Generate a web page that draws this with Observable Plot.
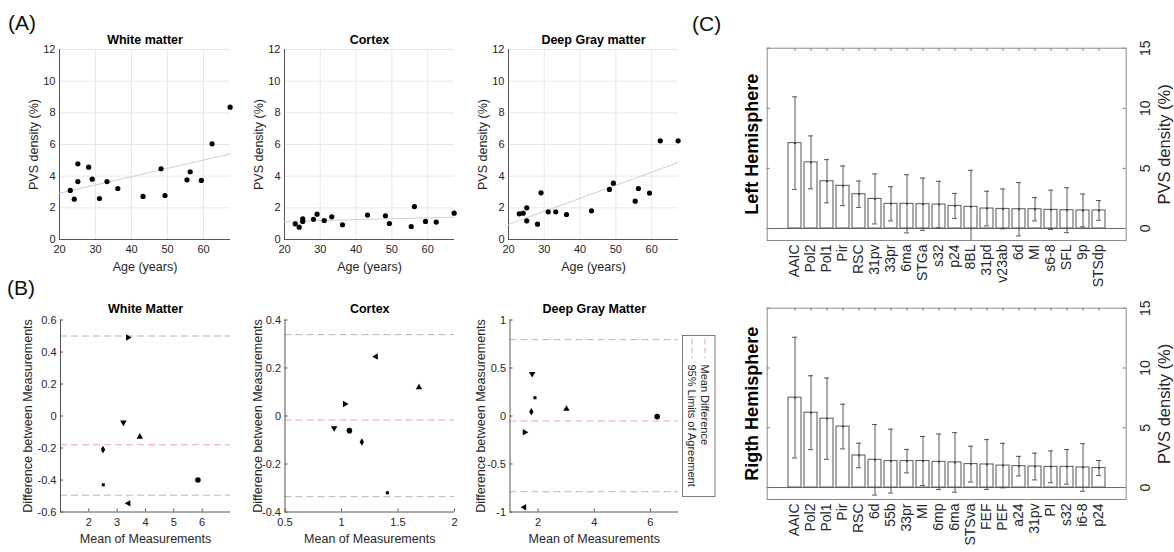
<!DOCTYPE html>
<html>
<head>
<meta charset="utf-8">
<script src="https://cdn.jsdelivr.net/npm/d3@7"></script>
<script src="https://cdn.jsdelivr.net/npm/@observablehq/plot@0.6"></script>
<style>
  html,body{margin:0;padding:0;background:#fff;}
  #root{position:relative;width:1174px;height:552px;overflow:hidden;font-family:"Liberation Sans",Arial,Helvetica,sans-serif;color:#262626;}
</style>
</head>
<body>
<div id="root"></div>
<script>
// ---------------- data: panel A (PVS density vs age) ----------------
const ages = [23.0, 24.1, 25.1, 25.1, 28.1, 29.1, 31.1, 33.2, 36.2, 43.2, 48.2, 49.3, 55.4, 56.3, 59.4, 62.4, 67.4];
const pvsWhite    = [3.10, 2.55, 4.78, 3.66, 4.57, 3.81, 2.59, 3.66, 3.22, 2.72, 4.47, 2.78, 3.77, 4.28, 3.73, 6.04, 8.36];
const pvsCortex   = [0.99, 0.78, 1.31, 1.14, 1.28, 1.60, 1.20, 1.43, 0.93, 1.54, 1.50, 1.01, 0.82, 2.08, 1.14, 1.10, 1.66];
const pvsDeepGray = [1.62, 1.66, 2.00, 1.18, 0.97, 2.95, 1.75, 1.75, 1.58, 1.81, 3.16, 3.56, 2.42, 3.22, 2.93, 6.23, 6.23];
const trendAges     = [20, 67.5];
const trendWhite    = [2.92, 5.41];
const trendCortex   = [1.14, 1.41];
const trendDeepGray = [0.95, 4.87];
const ageTicks = [20, 30, 40, 50, 60];
const densityTicks = [0, 2, 4, 6, 8, 10, 12];

// ---------------- data: panel B (Bland-Altman) ----------------
const baWhiteMarkers = ["right", "down", "up", "diamond", "square", "left", "circle"];
const baWhiteMean    = [3.38, 3.22, 3.80, 2.50, 2.51, 3.40, 5.85];
const baWhiteDiff    = [0.49, -0.04, -0.13, -0.21, -0.43, -0.546, -0.40];
const baWhiteMeanDiff = -0.18;
const baWhiteLimits  = [0.50, -0.495];

const baCortexMarkers = ["down", "right", "circle", "diamond", "left", "square", "up"];
const baCortexMean    = [0.935, 1.03, 1.07, 1.18, 1.305, 1.406, 1.686];
const baCortexDiff    = [-0.05, 0.05, -0.061, -0.108, 0.248, -0.32, 0.119];
const baCortexMeanDiff = -0.017;
const baCortexLimits  = [0.339, -0.336];

const baDeepMarkers = ["down", "square", "diamond", "up", "right", "left", "circle"];
const baDeepMean    = [1.79, 1.89, 1.76, 3.01, 1.52, 1.51, 6.24];
const baDeepDiff    = [0.44, 0.19, 0.045, 0.073, -0.17, -0.95, -0.007];
const baDeepMeanDiff = -0.052;
const baDeepLimits  = [0.795, -0.789];

// ---------------- data: panel C (regional PVS density) ----------------
const leftRegions = ["AAIC","Pol2","Pol1","Pir","RSC","31pv","33pr","6ma","STGa","s32","p24","8BL","31pd","v23ab","6d","MI","s6-8","SFL","9p","STSdp"];
const leftMeans   = [7.10, 5.50, 3.93, 3.55, 2.85, 2.46, 2.05, 2.05, 2.02, 1.99, 1.88, 1.80, 1.66, 1.63, 1.60, 1.60, 1.55, 1.52, 1.50, 1.50];
const leftSDs     = [3.85, 2.20, 1.80, 1.65, 1.10, 2.08, 1.42, 2.42, 2.17, 1.94, 1.04, 3.04, 1.44, 1.66, 2.22, 0.97, 1.64, 1.87, 1.36, 0.82];
const rightRegions = ["AAIC","Pol2","Pol1","Pir","RSC","6d","55b","33pr","MI","6mp","6ma","STSva","FEF","PEF","a24","31pv","PI","s32","i6-8","p24"];
const rightMeans   = [7.52, 6.26, 5.76, 5.10, 2.68, 2.32, 2.21, 2.21, 2.22, 2.15, 2.10, 1.96, 1.93, 1.84, 1.79, 1.76, 1.73, 1.73, 1.68, 1.63];
const rightSDs     = [5.05, 3.09, 3.40, 1.87, 1.03, 2.95, 2.67, 0.98, 2.05, 2.32, 2.49, 1.50, 2.08, 1.86, 0.82, 1.12, 1.33, 1.45, 1.99, 0.63];
const densityTicksC = [0, 5, 10, 15];

// ---------------- helpers ----------------
const W = 1174, H = 552;
const root = document.getElementById("root");
const FONT = '"Liberation Sans", Arial, Helvetica, sans-serif';
const AX = "#555555";
const C = {textAnchor: "middle", lineAnchor: "middle"};

function layer([l, r, t, b], opts, fontSize = 11) {
  const el = Plot.plot({
    width: W, height: H,
    marginLeft: l, marginRight: W - r, marginTop: t, marginBottom: H - b,
    style: {position: "absolute", left: "0px", top: "0px", background: "transparent",
            fontFamily: FONT, fontSize: fontSize + "px", color: "#262626", overflow: "visible"},
    ...opts
  });
  root.appendChild(el);
}

const triangle = deg => ({
  draw(ctx, size) {
    const R = Math.sqrt(size / 1.299);
    for (let k = 0; k < 3; ++k) {
      const a = (deg + 120 * k) * Math.PI / 180;
      const px = R * Math.cos(a), py = R * Math.sin(a);
      if (k) ctx.lineTo(px, py); else ctx.moveTo(px, py);
    }
    ctx.closePath();
  }
});
const SYM = {
  up: {s: triangle(-90), r: 2.4}, down: {s: triangle(90), r: 2.4},
  left: {s: triangle(180), r: 2.4}, right: {s: triangle(0), r: 2.4},
  square: {s: d3.symbolSquare, r: 1.7}, diamond: {s: d3.symbolDiamond, r: 2.3},
  circle: {s: d3.symbolCircle, r: 2.8}
};

// ---------------- panel A ----------------
function panelA(frame, title, vals, trend) {
  const pts = ages.map((a, i) => ({age: a, v: vals[i]}));
  const tl = trendAges.map((a, i) => ({age: a, v: trend[i]}));
  layer(frame, {
    x: {domain: [20, 67.5], ticks: ageTicks, tickSize: 0, tickPadding: 6, label: null},
    y: {domain: [0, 12], ticks: densityTicks, tickSize: 0, tickPadding: 4, label: null},
    marks: [
      Plot.ruleX(ageTicks, {x: d => d, stroke: "#e8e8e8"}),
      Plot.ruleY(densityTicks, {y: d => d, stroke: "#e8e8e8"}),
      Plot.ruleX([20], {x: d => d, stroke: AX}),
      Plot.ruleY([0], {y: d => d, stroke: AX}),
      Plot.line(tl, {x: "age", y: "v", stroke: "#d0d0d0", strokeWidth: 1}),
      Plot.dot(pts, {x: "age", y: "v", r: 2.6, fill: "#000", stroke: "none"}),
      Plot.text([title], {...C, text: d => d, frameAnchor: "top", dy: -10, fontWeight: "bold", fontSize: 12.5, fill: "#000"}),
      Plot.text(["PVS density (%)"], {...C, text: d => d, frameAnchor: "left", dx: -26, rotate: -90, fontSize: 12.5}),
      Plot.text(["Age (years)"], {...C, text: d => d, frameAnchor: "bottom", dy: 27, fontSize: 12.5})
    ]
  });
}
panelA([59, 230, 49, 239], "White matter", pvsWhite, trendWhite);
panelA([284, 454, 49, 239], "Cortex", pvsCortex, trendCortex);
panelA([508, 678, 49, 239], "Deep Gray matter", pvsDeepGray, trendDeepGray);

// ---------------- panel B ----------------
function panelB(frame, title, xDomain, xTicks, yDomain, yTicks, means, diffs, markers, meanDiff, limits, labelDx) {
  const pts = means.map((m, i) => ({x: m, y: diffs[i], m: markers[i]}));
  const fw = frame[1] - frame[0], fh = frame[3] - frame[2];
  const dots = Object.keys(SYM).map(k =>
    Plot.dot(pts.filter(p => p.m === k), {x: "x", y: "y", symbol: SYM[k].s, r: SYM[k].r, fill: "#000", stroke: "none"}));
  layer(frame, {
    x: {domain: xDomain, ticks: xTicks, tickSize: 0, tickPadding: 6, label: null, tickFormat: d => String(d)},
    y: {domain: yDomain, ticks: yTicks, tickSize: 0, tickPadding: 4, label: null, tickFormat: d => String(d)},
    marks: [
      Plot.ruleY(limits, {y: d => d, stroke: "#b8b8b8", strokeDasharray: "7,4"}),
      Plot.ruleY([meanDiff], {y: d => d, stroke: "#f2a3a3", strokeDasharray: "7,4"}),
      Plot.ruleX([xDomain[0]], {x: d => d, stroke: AX}),
      Plot.ruleY([yDomain[0]], {y: d => d, stroke: AX}),
      Plot.tickX(xTicks, {x: d => d, insetTop: fh - 3, stroke: AX}),
      Plot.tickY(yTicks, {y: d => d, insetRight: fw - 3, stroke: AX}),
      ...dots,
      Plot.text([title], {...C, text: d => d, frameAnchor: "top", dy: -11, fontWeight: "bold", fontSize: 12.5, fill: "#000"}),
      Plot.text(["Difference between Measurements"], {...C, text: d => d, frameAnchor: "left", dx: labelDx, rotate: -90, fontSize: 12.5}),
      Plot.text(["Mean of Measurements"], {...C, text: d => d, frameAnchor: "bottom", dy: 27, fontSize: 12.5})
    ]
  });
}
panelB([60, 230, 319.5, 511.5], "White Matter", [1, 7], [2, 3, 4, 5, 6], [-0.6, 0.6], [-0.6, -0.4, -0.2, 0, 0.2, 0.4, 0.6],
       baWhiteMean, baWhiteDiff, baWhiteMarkers, baWhiteMeanDiff, baWhiteLimits, -33);
panelB([284.5, 454, 319.5, 511.5], "Cortex", [0.5, 2], [0.5, 1, 1.5, 2], [-0.4, 0.4], [-0.4, -0.2, 0, 0.2, 0.4],
       baCortexMean, baCortexDiff, baCortexMarkers, baCortexMeanDiff, baCortexLimits, -27);
panelB([509.5, 678, 319.5, 511.5], "Deep Gray Matter", [1, 7], [2, 4, 6], [-1, 1], [-1, -0.5, 0, 0.5, 1],
       baDeepMean, baDeepDiff, baDeepMarkers, baDeepMeanDiff, baDeepLimits, -29);

// ---------------- panel C ----------------
function panelC(frame, names, means, sds, hemi) {
  const rows = names.map((n, i) => ({name: n, mean: means[i], lo: means[i] - sds[i], hi: means[i] + sds[i]}));
  const fw = frame[1] - frame[0], fh = frame[3] - frame[2];
  layer(frame, {
    x: {type: "band", domain: names, paddingInner: 0.17, paddingOuter: 0.78, align: 0.5,
        tickRotate: -90, tickSize: 0, tickPadding: 4, label: null},
    y: {domain: [-1, 15], axis: null},
    marks: [
      Plot.ruleY([0], {y: d => d, stroke: "#666"}),
      Plot.barY(rows, {x: "name", y: "mean", fill: "white", stroke: "#555", strokeWidth: 1}),
      Plot.ruleX(rows, {x: "name", y1: "lo", y2: "hi", stroke: "#444", strokeWidth: 0.9, clip: true}),
      Plot.tickY(rows, {x: "name", y: "hi", insetLeft: 4, insetRight: 4, stroke: "#444", strokeWidth: 0.9, clip: true}),
      Plot.tickY(rows, {x: "name", y: "lo", insetLeft: 4, insetRight: 4, stroke: "#444", strokeWidth: 0.9, clip: true}),
      Plot.dot(rows, {x: "name", y: "mean", r: 1, fill: "#333", stroke: "none"}),
      Plot.tickX(names, {x: d => d, insetBottom: fh - 3, stroke: "#777"}),
      Plot.tickY(densityTicksC, {y: d => d, insetRight: fw - 3, stroke: "#777"}),
      Plot.tickY(densityTicksC, {y: d => d, insetLeft: fw - 3, stroke: "#777"}),
      Plot.frame({stroke: "#8a8a8a"}),
      Plot.text(densityTicksC, {...C, y: d => d, text: d => String(d), frameAnchor: "right", dx: 19.5, rotate: -90, fontSize: 14}),
      Plot.text(["PVS density (%)"], {...C, text: d => d, frameAnchor: "right", dx: 38.5, rotate: -90, fontSize: 16.5}),
      Plot.text([hemi], {...C, text: d => d, frameAnchor: "left", dx: -15, rotate: -90, fontSize: 18, fontWeight: "bold", fill: "#000"})
    ]
  }, 14);
}
panelC([766.7, 1125.7, 47.7, 240], leftRegions, leftMeans, leftSDs, "Left Hemisphere");
panelC([766.7, 1125.7, 307.7, 499], rightRegions, rightMeans, rightSDs, "Rigth Hemisphere");

// ---------------- panel letters and Bland-Altman legend ----------------
const over = d3.select(root).append("svg")
  .attr("width", W).attr("height", H)
  .style("position", "absolute").style("left", "0px").style("top", "0px")
  .style("font-family", FONT).style("overflow", "visible");
[["(A)", 8, 30], ["(B)", 7, 295], ["(C)", 692, 31]].forEach(([t, x, y]) =>
  over.append("text").attr("x", x).attr("y", y).attr("font-size", 21).attr("fill", "#111").text(t));

const leg = over.append("g").attr("transform", "translate(682.5,335.5)");
leg.append("rect").attr("width", 32.5).attr("height", 161).attr("fill", "#fff").attr("stroke", "#444").attr("stroke-width", 0.7);
[["Mean Difference", "#f2a3a3", 22.5], ["95% Limits of Agreement", "#b8b8b8", 9.5]].forEach(([t, c, x]) => {
  leg.append("line").attr("x1", x).attr("x2", x).attr("y1", 3).attr("y2", 23).attr("stroke", c).attr("stroke-dasharray", "6,3");
  leg.append("text").attr("transform", `translate(${x},29) rotate(90)`).attr("dy", "0.35em")
    .attr("font-size", 11).attr("fill", "#262626").text(t);
});
</script>
</body>
</html>
